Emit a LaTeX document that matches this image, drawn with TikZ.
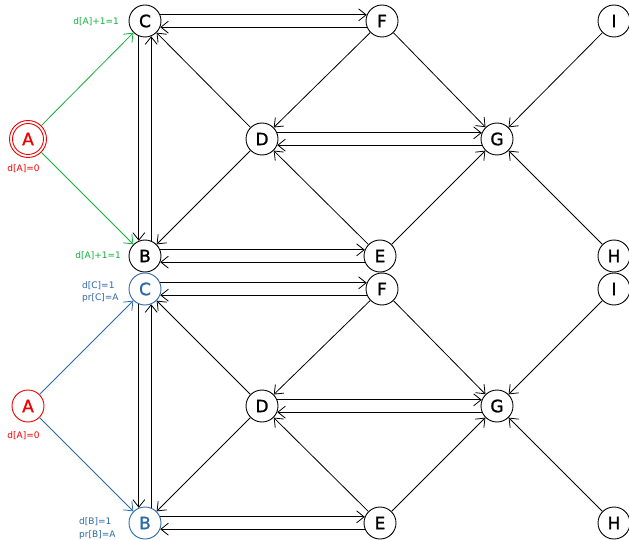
\documentclass[tikz,border=0pt]{standalone}
\usepackage{fontspec}
\usetikzlibrary{arrows.meta}
\newfontfamily\dvfont{DejaVu Sans}
\newfontfamily\nodefont[FakeBold=1.2]{DejaVu Sans}
\definecolor{grn}{RGB}{20,175,60}
\definecolor{rd}{RGB}{240,0,0}
\definecolor{blu}{RGB}{45,105,168}
\begin{document}
\begin{tikzpicture}[x=1pt,y=-1pt,
  vtx/.style={circle,draw,line width=0.9pt,minimum size=32pt,inner sep=0pt,font=\nodefont\fontsize{17}{17}\selectfont},
  arr/.style={line width=0.8pt,-{Straight Barb[length=7.5pt,width=12pt,line width=0.8pt]}},
  lbl/.style={font=\dvfont\fontsize{9}{12.5}\selectfont,inner sep=0pt}]
\useasboundingbox (0,0) rectangle (629,540);
\fill[white] (0,0) rectangle (629,540);
% ---------- top graph ----------
\node[vtx] (C1) at (145,21) {C};
\node[vtx] (F1) at (382,21) {F};
\node[vtx] (I1) at (614,21) {I};
\node[vtx,draw=rd,text=rd,minimum size=37pt] (A1) at (28,139) {A};
\draw[rd,line width=0.9pt] (A1) circle (15.5pt);
\node[vtx] (D1) at (262,139) {D};
\node[vtx] (G1) at (497,139) {G};
\node[vtx] (B1) at (145,256) {B};
\node[vtx] (E1) at (380,256) {E};
\node[vtx] (H1) at (614,256) {H};
% ---------- bottom graph ----------
\node[vtx,draw=blu,text=blu] (C2) at (145,289) {C};
\node[vtx] (F2) at (382,289) {F};
\node[vtx] (I2) at (614,289) {I};
\node[vtx,draw=rd,text=rd] (A2) at (28,406) {A};
\node[vtx] (D2) at (262,406) {D};
\node[vtx] (G2) at (497,406) {G};
\node[vtx,draw=blu,text=blu] (B2) at (145,523) {B};
\node[vtx] (E2) at (380,523) {E};
\node[vtx] (H2) at (614,523) {H};
% ---------- black edges ----------
\foreach \s in {1,2}{
  \draw[arr] (C\s.22) -- (F\s.158);
  \draw[arr] (F\s.202) -- (C\s.338);
  \draw[arr] (C\s.248) -- (B\s.112);
  \draw[arr] (B\s.68) -- (C\s.292);
  \draw[arr] (D\s) -- (C\s);
  \draw[arr] (F\s) -- (D\s);
  \draw[arr] (F\s) -- (G\s);
  \draw[arr] (D\s.22) -- (G\s.158);
  \draw[arr] (G\s.202) -- (D\s.338);
  \draw[arr] (D\s) -- (B\s);
  \draw[arr] (E\s) -- (D\s);
  \draw[arr] (E\s) -- (G\s);
  \draw[arr] (B\s.22) -- (E\s.158);
  \draw[arr] (E\s.202) -- (B\s.338);
  \draw[arr] (I\s) -- (G\s);
  \draw[arr] (H\s) -- (G\s);
}
% ---------- coloured edges ----------
\draw[arr,grn] (A1) -- (C1);
\draw[arr,grn] (A1) -- (B1);
\draw[arr,blu] (A2) -- (C2);
\draw[arr,blu] (A2) -- (B2);
% ---------- labels ----------
\node[lbl,text=grn,anchor=east] (l1) at (119,22) {d[A]+1=1};
\node[lbl,text=rd] (l2) at (23.5,169) {d[A]=0};
\node[lbl,text=grn,anchor=east] (l3) at (121,256) {d[A]+1=1};
\node[lbl,text=blu,anchor=west,align=left] (l4) at (82,292) {d[C]=1\\pr[C]=A};
\node[lbl,text=rd] (l5) at (23.5,436) {d[A]=0};
\node[lbl,text=blu,anchor=west,align=left] (l6) at (79,528.5) {d[B]=1\\pr[B]=A};
\end{tikzpicture}
\end{document}
